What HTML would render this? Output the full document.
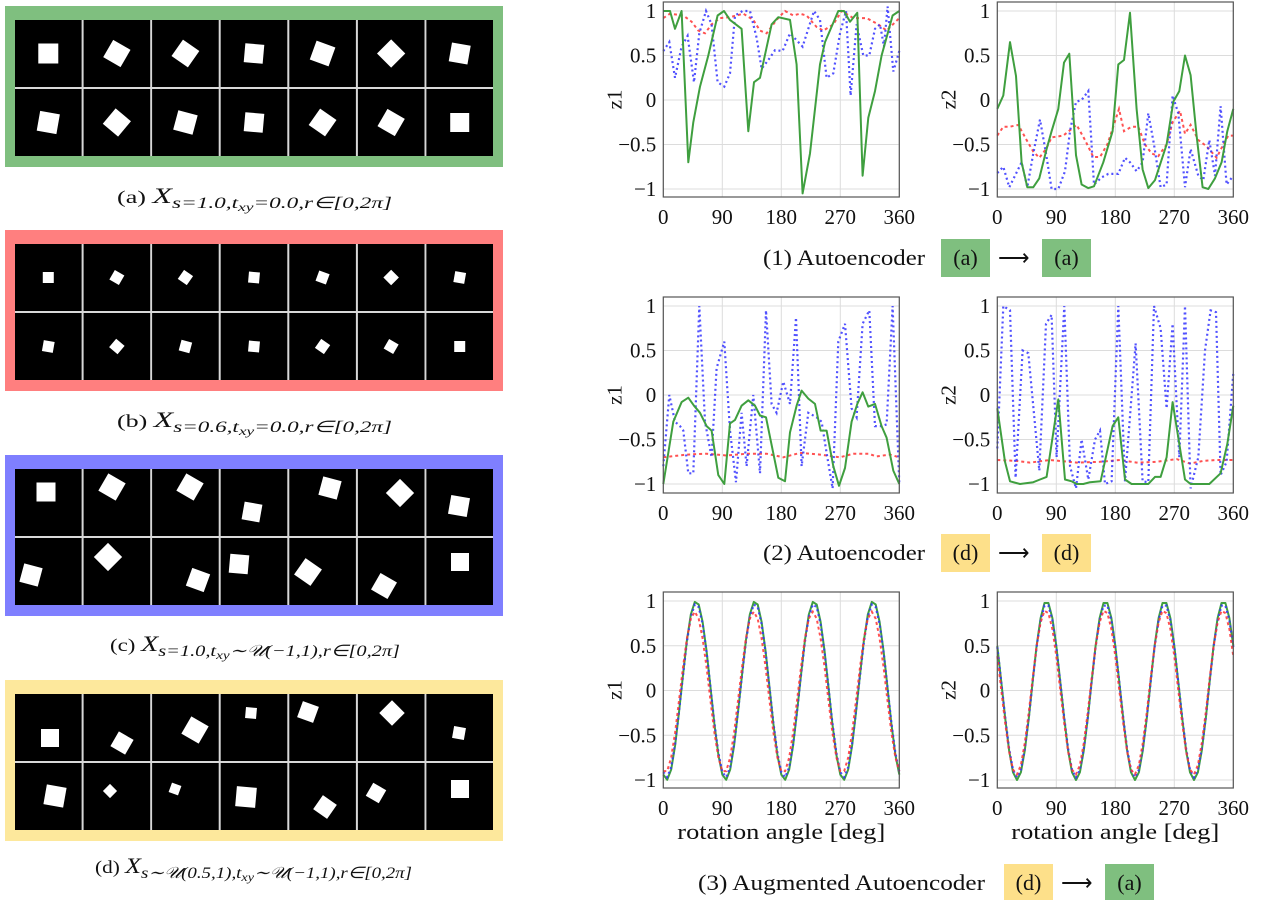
<!DOCTYPE html>
<html><head><meta charset="utf-8"><style>
html,body{margin:0;padding:0;background:#fff;}
svg{display:block;}
text{font-family:"Liberation Serif",serif;fill:#111;}
</style></head><body>
<svg id="s" width="1263" height="900" viewBox="0 0 1263 900" xmlns="http://www.w3.org/2000/svg"></svg>
<script>
var S=document.getElementById('s'),h='';
var panels=[
 {oy:6,c:'#7fbf7f',sq:[[0,0,20,0],[1,0,20,30],[2,0,20,35],[3,0,19,5],[4,0,20,20],[5,0,20,45],[6,0,19,10],
   [0,1,20,10],[1,1,20,40],[2,1,20,15],[3,1,19,5],[4,1,20,35],[5,1,20,30],[6,1,19,0]]},
 {oy:230,c:'#ff7f7f',sq:[[0,0,11,0],[1,0,11,30],[2,0,11,35],[3,0,11,5],[4,0,11,20],[5,0,11,45],[6,0,11,10],
   [0,1,11,10],[1,1,11,40],[2,1,11,15],[3,1,11,5],[4,1,11,35],[5,1,11,30],[6,1,11,0]]}
];
var free=[
 {oy:455,c:'#7f7fff',sq:[[46,492,19,0],[112,487,20,30],[190,487,20,30],[252,512,18,10],[330,488,19,15],[400,493,20,45],[459,506,19,10],
   [31,575,19,15],[108,557,20,45],[198,580,19,20],[239,564,19,5],[308,572,20,35],[384,586,19,30],[460,562,18,0]]},
 {oy:680,c:'#fde89c',sq:[[50,738,18,0],[122,743,17,30],[195,730,20,30],[251,713,11,5],[308,712,17,20],[392,713,18,45],[459,733,12,10],
   [55,796,20,10],[110,791,10,45],[175,789,10,20],[246,797,20,5],[325,807,17,35],[376,793,15,30],[460,789,18,0]]}
];
function frame(oy,c){
 h+='<rect x="5" y="'+oy+'" width="498" height="161" fill="'+c+'"/>';
 h+='<rect x="15" y="'+(oy+14)+'" width="478" height="136" fill="#d8d8d8"/>';
 var cw=(478-12)/7;
 for(var i=0;i<7;i++)for(var r=0;r<2;r++)
  h+='<rect x="'+(15+i*(cw+2)).toFixed(1)+'" y="'+(oy+14+r*69)+'" width="'+cw.toFixed(1)+'" height="67" fill="#000"/>';
}
function sq(cx,cy,s,a){h+='<rect x="'+(cx-s/2)+'" y="'+(cy-s/2)+'" width="'+s+'" height="'+s+'" fill="#fff" transform="rotate('+a+' '+cx+' '+cy+')"/>';}
panels.forEach(function(p){frame(p.oy,p.c);var cw=(478-12)/7;
 p.sq.forEach(function(q){sq(15+q[0]*(cw+2)+cw/2,p.oy+14+q[1]*69+33.5,q[2],q[3]);});});
free.forEach(function(p){frame(p.oy,p.c);p.sq.forEach(function(q){sq(q[0],q[1],q[2],q[3]);});});
var sub='<tspan font-size="12" dy="3">xy</tspan><tspan dy="-3">';
var caps=[[197,'(a)','s=1.0,t'+sub+'=0.0,r∈[0,2π]</tspan>',117,275],
 [421,'(b)','s=0.6,t'+sub+'=0.0,r∈[0,2π]</tspan>',117,275],
 [645,'(c)','s=1.0,t'+sub+'∼𝒰(−1,1),r∈[0,2π]</tspan>',110,290],
 [867,'(d)','s∼𝒰(0.5,1),t'+sub+'∼𝒰(−1,1),r∈[0,2π]</tspan>',95,317]];
caps.forEach(function(c){
 h+='<text x="'+c[3]+'" y="'+(c[0]+6)+'" font-size="18" textLength="'+c[4]+'" lengthAdjust="spacingAndGlyphs">'+c[1]+' <tspan font-style="italic" font-size="22">X</tspan><tspan font-size="16" font-style="italic" dy="5">'+c[2]+'</tspan></text>';
});
var L={l:663.3,r:899.3},R={l:997.3,r:1233.3};
var rows=[{t:2,b:197,y1:11,ym:189},{t:297,b:493,y1:306,ym:484},{t:592,b:788,y1:601,ym:780}];
function axes(P,row,yl,xl){
 var X=function(d){return P.l+(P.r-P.l)*d/360;},Y=function(v){return row.y1+(row.ym-row.y1)*(1-v)/2;};
 var g='';
 [0,90,180,270,360].forEach(function(d){g+='<line x1="'+X(d)+'" y1="'+row.t+'" x2="'+X(d)+'" y2="'+row.b+'" stroke="#dcdcdc" stroke-width="1"/>';
  h+='<text x="'+X(d)+'" y="'+(row.b+27)+'" text-anchor="middle" font-size="21">'+d+'</text>';});
 [1,0.5,0,-0.5,-1].forEach(function(v){g+='<line x1="'+P.l+'" y1="'+Y(v)+'" x2="'+P.r+'" y2="'+Y(v)+'" stroke="#dcdcdc" stroke-width="1"/>';
  h+='<text x="'+(P.l-7)+'" y="'+(Y(v)+7)+'" text-anchor="end" font-size="21">'+(v<0?'−'+(-v):v)+'</text>';});
 h=g+h;
 h+='<text transform="translate('+(P.l-42)+','+((row.t+row.b)/2)+') rotate(-90)" text-anchor="middle" font-size="21">'+yl+'</text>';
 if(xl)h+='<text x="'+((P.l+P.r)/2)+'" y="'+(row.b+51)+'" text-anchor="middle" font-size="22" textLength="208" lengthAdjust="spacingAndGlyphs">rotation angle [deg]</text>';
 return {X:X,Y:Y};
}
var body='';
function series(P,row,ax,x0,pts,st){
 var d='';for(var i=0;i<pts.length;i+=2){var deg=(pts[i]-x0)/708*360;d+=(i?'L':'M')+ax.X(deg).toFixed(1)+' '+ax.Y(pts[i+1]).toFixed(1);}
 body+='<path d="'+d+'" fill="none" '+st+'/>';
}
function fseries(ax,f,st){var d='';for(var t=0;t<=360;t+=6){d+=(t?'L':'M')+ax.X(t).toFixed(1)+' '+ax.Y(f(t)).toFixed(1);}body+='<path d="'+d+'" fill="none" '+st+'/>';}
var G='stroke="#3f9f3f" stroke-width="2" stroke-linejoin="round"',B='stroke="#3333ff" stroke-width="2.2" stroke-dasharray="2 3" opacity="0.85"',Rd='stroke="#ff3333" stroke-width="2" stroke-dasharray="3 3" opacity="0.85"';
var a=axes(L,rows[0],'z1');
series(L,rows[0],a,130,[130,0.92,150,0.97,190,0.95,215,0.88,235,0.78,255,0.75,275,0.85,300,0.92,330,0.93,370,0.97,400,0.9,420,0.78,440,0.75,470,0.9,495,1,520,0.95,540,0.97,560,0.95,590,0.82,610,0.78,640,0.85,665,1.0,700,0.92,740,0.92,775,0.85,800,0.78,838,0.92],Rd);
series(L,rows[0],a,130,[130,0.55,148,0.65,165,0.25,185,0.6,203,0.72,222,0.2,238,0.75,258,1,275,0.85,293,0.2,313,0.15,330,0.3,345,0.95,368,1,390,1,410,0.7,425,0.35,445,0.45,465,0.56,488,0.55,510,0.75,548,0.6,582,1,600,0.9,620,0.25,640,0.3,660,0.75,678,1,692,0.05,710,0.85,730,0.5,748,0.5,765,0.8,780,0.85,792,0.6,803,1.05,820,0.32,838,0.55],B);
series(L,rows[0],a,130,[130,1,150,1,165,0.8,185,1,205,-0.7,220,-0.25,240,0.15,265,0.5,293,0.95,312,1,330,0.9,365,0.8,385,-0.35,402,0.2,420,0.25,455,0.85,475,0.93,510,0.9,530,0.4,548,-1.05,570,-0.6,600,0.4,615,0.65,655,1,672,1,690,0.88,712,0.98,728,-0.85,745,-0.2,765,0.1,785,0.5,818,0.95,838,1],G);
a=axes(R,rows[0],'z2');
series(R,rows[0],a,142,[142,-0.4,160,-0.3,180,-0.3,205,-0.28,230,-0.45,250,-0.58,268,-0.65,288,-0.55,305,-0.42,340,-0.4,380,-0.28,405,-0.45,430,-0.64,450,-0.64,472,-0.5,490,-0.3,507,-0.1,522,-0.35,545,-0.3,565,-0.3,585,-0.5,605,-0.6,625,-0.63,650,-0.5,668,-0.25,690,-0.12,705,-0.38,722,-0.28,745,-0.45,770,-0.52,800,-0.65,820,-0.5,835,-0.4,850,-0.4],Rd);
series(R,rows[0],a,142,[142,-0.82,160,-0.75,178,-0.98,195,-0.85,215,-0.7,232,-0.98,250,-0.6,270,-0.22,288,-0.6,305,-1,325,-1,345,-0.8,360,-0.35,378,-0.02,395,0,415,0.1,432,-0.95,455,-0.87,475,-0.83,505,-0.83,525,-0.65,540,-0.7,560,-0.8,578,-0.7,595,-0.15,612,-0.5,632,-0.98,650,-0.95,668,0.05,685,-0.15,705,-0.98,722,-0.55,745,-0.85,760,-0.9,778,-0.45,795,-0.85,812,-0.07,830,-0.95,850,-0.85],B);
series(R,rows[0],a,142,[142,-0.1,160,0.05,180,0.65,198,0.27,215,-0.7,232,-0.98,250,-0.98,268,-0.88,290,-0.55,305,-0.35,325,-0.1,342,0.42,358,0.52,378,-0.62,395,-0.95,415,-0.99,432,-0.97,460,-0.7,488,-0.35,505,0.4,522,0.45,540,0.98,560,-0.1,578,-0.78,595,-0.99,615,-0.9,650,-0.5,670,-0.02,688,0.1,705,0.5,722,0.28,740,-0.4,758,-0.98,775,-1,795,-0.88,815,-0.7,832,-0.35,850,-0.1],G);
a=axes(L,rows[1],'z1');
series(L,rows[1],a,130,[130,-0.7,200,-0.67,260,-0.66,320,-0.68,380,-0.66,440,-0.66,490,-0.7,540,-0.65,600,-0.67,660,-0.7,700,-0.66,745,-0.66,770,-0.69,810,-0.67,838,-0.7],Rd);
series(L,rows[1],a,130,[130,-0.8,148,0,165,-0.3,180,-0.35,190,-0.4,205,-0.88,220,-0.88,238,1,255,-0.3,275,-0.7,290,0.3,313,0.6,330,-0.4,348,-0.98,365,-0.2,380,-0.8,400,0,420,-0.88,438,0.95,455,-0.1,470,-0.2,490,0.15,510,-0.1,528,0.87,545,-0.8,565,-0.2,590,-0.25,605,-0.3,620,-0.65,638,-1.05,655,0.6,675,0.8,695,-0.15,710,-0.25,728,0.8,748,0.95,765,-0.35,785,-0.35,800,-0.33,818,1,838,-1],B);
series(L,rows[1],a,130,[130,-1,160,-0.3,185,-0.08,205,-0.03,222,-0.12,240,-0.2,260,-0.35,275,-0.4,295,-0.9,313,-1,330,-0.32,345,-0.28,365,-0.12,385,-0.06,405,-0.12,420,-0.23,438,-0.25,475,-0.93,495,-0.97,510,-0.42,530,-0.12,545,0.05,565,-0.04,585,-0.1,602,-0.4,620,-0.4,640,-0.8,657,-1.02,675,-0.82,695,-0.3,712,-0.1,728,0.03,745,-0.13,765,-0.1,785,-0.35,800,-0.48,820,-0.85,838,-1],G);
a=axes(R,rows[1],'z2');
series(R,rows[1],a,142,[142,-0.73,200,-0.74,240,-0.76,300,-0.73,380,-0.76,450,-0.75,510,-0.73,560,-0.76,620,-0.75,680,-0.72,720,-0.77,760,-0.74,800,-0.73,850,-0.73],Rd);
series(R,rows[1],a,142,[142,-0.6,160,1,180,0.95,197,-0.93,218,0.5,235,0.47,268,-0.85,288,0.8,305,0.9,320,-0.7,343,1,360,-0.8,378,-1.05,395,-0.5,415,-0.95,435,-0.5,450,-0.4,465,-1,485,-0.97,505,1,525,-0.97,557,0.58,578,-0.97,595,-0.98,612,1,632,0.75,650,-0.15,668,0.8,688,-0.7,705,1,722,-1.05,745,-0.7,765,0.5,782,0.95,798,0.93,812,-0.9,830,-0.75,850,0.25],B);
series(R,rows[1],a,142,[142,-0.15,165,-0.75,180,-0.97,210,-1,250,-0.98,270,-0.95,290,-0.92,325,-0.05,345,-0.95,365,-0.97,380,-1,400,-1,420,-0.98,452,-0.97,488,-0.35,505,-0.25,525,-0.95,545,-1,595,-1,615,-0.92,632,-0.92,650,-0.7,668,-0.08,705,-0.95,722,-1,778,-1,812,-0.88,832,-0.55,850,-0.12],G);
var rad=Math.PI/180;
a=axes(L,rows[2],'z1',1);
fseries(a,function(t){return Math.cos(4*(t-50)*rad);},G);
fseries(a,function(t){return 0.97*Math.cos(4*(t-50)*rad);},B);
fseries(a,function(t){return 0.9*Math.cos(4*(t-48)*rad)-0.02;},Rd);
a=axes(R,rows[2],'z2',1);
fseries(a,function(t){return Math.cos(4*(t-75)*rad);},G);
fseries(a,function(t){return 0.97*Math.cos(4*(t-75)*rad);},B);
fseries(a,function(t){return 0.92*Math.cos(4*(t-74)*rad)-0.02;},Rd);
h+=body;
[L,R].forEach(function(P){rows.forEach(function(r){h+='<rect x="'+P.l+'" y="'+r.t+'" width="'+(P.r-P.l)+'" height="'+(r.b-r.t)+'" fill="none" stroke="#555" stroke-width="1.2"/>';});});
function cap(y,t,x0,tl,b1,c1,l1,b2,c2,l2){
 h+='<text x="'+x0+'" y="'+(y+7)+'" font-size="22" textLength="'+tl+'" lengthAdjust="spacingAndGlyphs">'+t+'</text>';
 h+='<rect x="'+b1+'" y="'+(y-19)+'" width="49" height="38" fill="'+c1+'"/>';
 h+='<text x="'+(b1+24.5)+'" y="'+(y+7)+'" text-anchor="middle" font-size="22">'+l1+'</text>';
 h+='<text x="'+(b1+57)+'" y="'+(y+7)+'" font-size="22">⟶</text>';
 h+='<rect x="'+b2+'" y="'+(y-19)+'" width="49" height="38" fill="'+c2+'"/>';
 h+='<text x="'+(b2+24.5)+'" y="'+(y+7)+'" text-anchor="middle" font-size="22">'+l2+'</text>';
}
cap(258,'(1) Autoencoder',763,162,941,'#7fbf7f','(a)',1042,'#7fbf7f','(a)');
cap(553,'(2) Autoencoder',763,162,941,'#fde08a','(d)',1042,'#fde08a','(d)');
cap(883,'(3) Augmented Autoencoder',698,287,1004,'#fde08a','(d)',1105,'#7fbf7f','(a)');
S.innerHTML=h;
</script>
</body></html>
